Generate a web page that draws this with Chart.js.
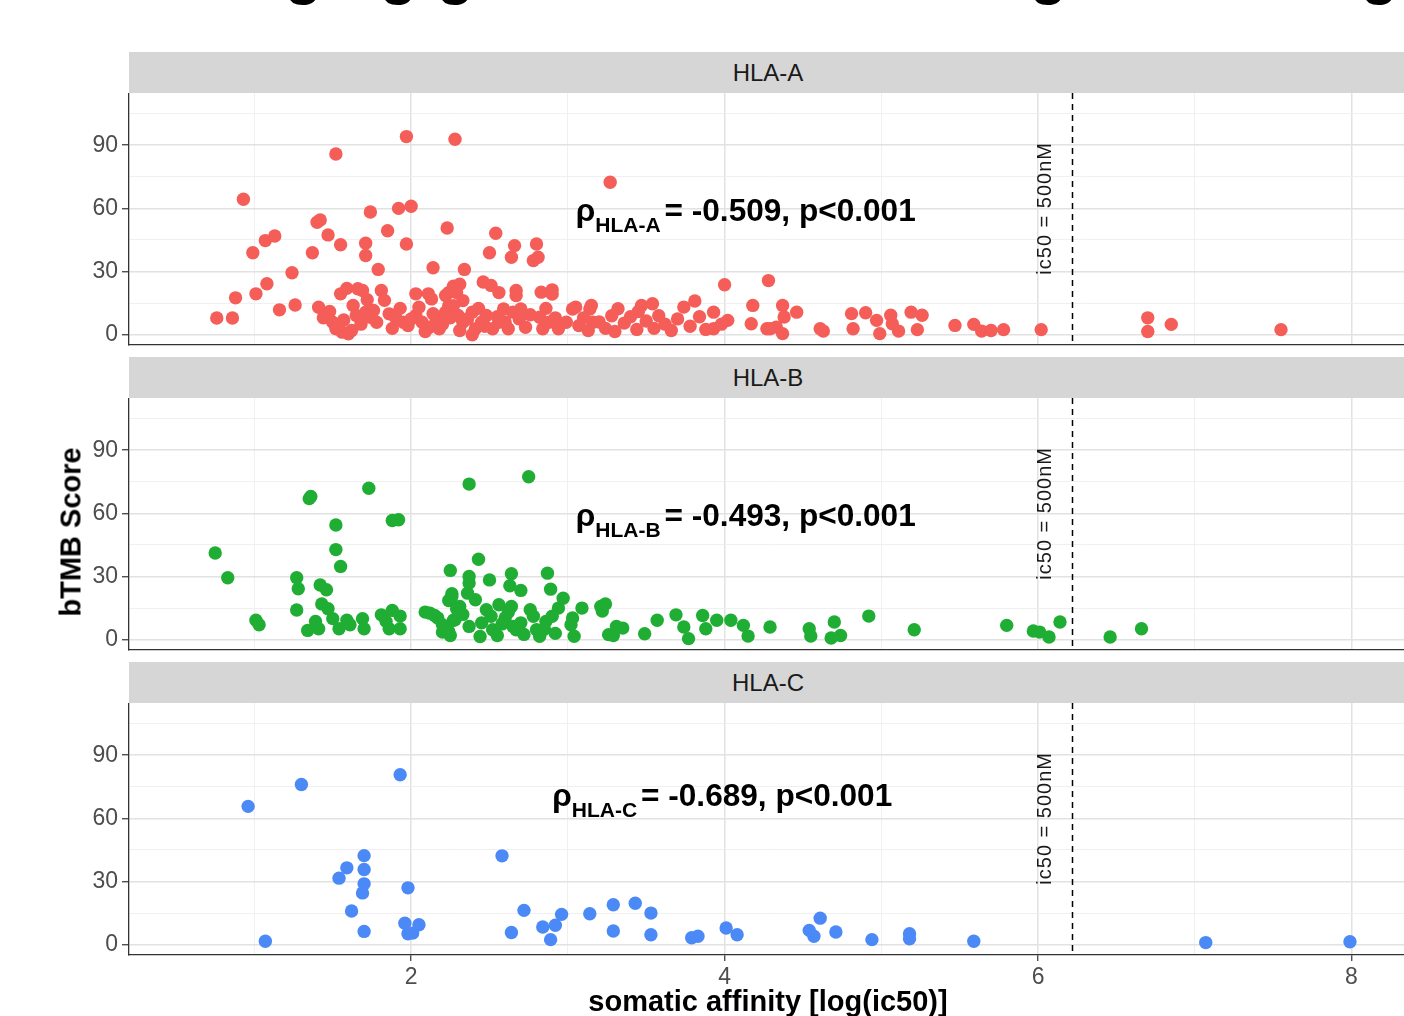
<!DOCTYPE html>
<html><head><meta charset="utf-8">
<script src="https://cdn.jsdelivr.net/npm/chart.js@4.4.0/dist/chart.umd.min.js"></script>
<style>
html,body{margin:0;padding:0;background:#fff;overflow:hidden;width:1404px;height:1016px;}
#wrap{position:relative;width:1404px;height:1016px;overflow:hidden;font-family:"Liberation Sans",Arial,sans-serif;}
.strip{position:absolute;left:129px;width:1278px;height:41px;background:#d6d6d6;color:#1a1a1a;font-size:24px;line-height:41px;text-align:center;}
canvas{position:absolute;left:0;}
#ylab{position:absolute;left:71px;top:532px;transform:translate(-50%,-50%) rotate(-90deg);font-weight:bold;font-size:29px;white-space:nowrap;color:#000;}
.cut{position:absolute;top:-57px;font-weight:bold;font-size:60px;line-height:60px;color:#000;}
</style></head>
<body><div id="wrap">
<span class="cut" style="left:285px">g</span>
<span class="cut" style="left:380px">g</span>
<span class="cut" style="left:437px">g</span>
<span class="cut" style="left:1030px">g</span>
<span class="cut" style="left:1361px">g</span>
<div class="strip" style="top:52px">HLA-A</div>
<div class="strip" style="top:357px">HLA-B</div>
<div class="strip" style="top:662px">HLA-C</div>
<canvas id="cA" width="1407" height="254" style="top:93px"></canvas>
<canvas id="cB" width="1407" height="254" style="top:398px"></canvas>
<canvas id="cC" width="1407" height="322" style="top:703px"></canvas>
<div id="ylab">bTMB Score</div>
</div>
<script>
// ---- data (somatic affinity = log(ic50), bTMB score) ----
const hlaA_affinity = [0.76,0.86,0.88,0.93,0.99,1.01,1.07,1.08,1.13,1.16,1.24,1.26,1.37,1.40,1.42,1.41,1.44,1.47,1.52,1.55,1.55,1.59,1.63,1.66,1.69,1.71,1.71,1.72,1.74,1.79,1.81,1.83,1.85,1.92,1.97,1.97,2.00,2.03,2.11,2.13,2.14,2.23,2.24,2.27,2.28,2.29,2.31,2.34,2.46,2.50,2.51,2.54,2.64,2.66,2.67,2.78,2.80,2.81,2.83,2.90,3.27,4.00,4.28,
2.22,2.24,2.33,2.56,2.67,2.90,
1.45,1.50,1.52,1.56,1.60,1.65,1.71,1.74,1.78,1.86,1.90,1.95,1.98,2.03,2.07,2.12,2.16,2.18,2.22,2.27,2.30,2.33,2.39,2.41,2.45,2.39,2.48,2.52,2.56,2.59,2.62,2.65,2.69,2.70,2.82,2.84,2.88,2.94,2.99,3.03,3.07,3.14,3.16,
1.48,1.53,1.57,1.62,1.68,1.76,1.88,1.93,2.00,2.05,2.09,2.14,2.20,2.25,2.31,2.36,2.43,2.47,2.55,2.60,2.73,2.76,2.86,2.92,
3.05,3.15,3.32,3.47,3.54,3.74,3.81,3.93,4.02,3.93,4.18,4.17,4.27,
3.10,3.13,3.20,3.24,3.28,3.30,3.36,3.40,3.44,3.50,3.55,3.58,3.62,3.66,3.70,3.78,3.84,3.88,3.98,3.45,
4.37,4.46,4.38,4.33,4.37,4.29,4.63,4.61,4.81,4.90,4.97,4.82,4.99,5.06,5.07,5.11,5.19,5.26,5.23,5.47,5.59,5.64,5.70,5.78,6.02,6.70,6.70,6.85,7.55];
const hlaA_btmb = [7.9,7.9,17.5,64.3,38.9,19.4,44.7,24.2,46.9,11.8,29.4,14.1,38.9,53.4,54.5,13.0,8.0,47.4,85.8,42.7,19.4,22.0,13.9,21.8,21.0,43.4,37.6,16.6,58.3,31.0,21.0,16.3,49.4,60.0,94.1,43.1,61.0,19.4,19.4,17.0,31.8,50.7,20.0,23.0,92.8,20.0,24.0,31.0,25.0,38.9,23.4,48.2,36.8,42.3,21.0,35.2,43.1,36.8,20.2,21.3,72.4,23.7,25.7,
18.6,13.8,16.2,20.0,18.6,19.3,
8.3,5.9,2.8,1.2,0.4,9.1,10.7,8.3,5.9,9.9,8.3,5.9,4.3,9.1,5.9,3.6,7.5,2.8,10.7,13.8,9.1,5.9,10.7,2.8,5.9,0.0,9.1,2.8,5.9,12.2,2.8,10.7,7.5,12.2,8.3,2.8,5.9,2.8,5.9,12.2,4.3,12.2,5.9,
11.0,4.5,7.0,2.0,5.0,11.5,3.0,12.5,7.5,13.0,1.5,10.0,5.0,8.0,2.0,7.5,12.5,4.0,8.5,6.0,3.5,9.5,12.5,8.0,
13.1,13.9,12.3,13.9,14.7,13.1,16.0,10.7,6.8,2.8,13.9,5.2,2.8,
8.0,2.0,6.0,3.0,9.0,1.5,5.5,8.5,2.5,6.5,3.0,9.0,5.0,2.0,7.5,4.0,8.5,2.5,5.0,11.0,
13.9,10.7,8.4,3.6,0.5,2.8,1.7,2.8,10.0,10.4,6.8,2.8,0.5,9.2,5.2,1.7,10.7,9.2,2.4,4.4,4.9,1.7,2.0,2.4,2.4,8.0,1.5,4.9,2.4];

const hlaB_affinity = [0.75,0.83,1.01,1.03,1.27,1.28,1.27,1.34,1.35,1.36,1.39,1.41,1.42,1.43,1.46,1.47,1.50,1.52,1.52,1.54,1.55,1.59,1.61,1.69,1.70,1.73,1.81,1.86,1.88,1.88,1.92,1.93,1.93,1.84,
2.09,2.15,2.20,2.24,2.25,2.26,2.27,2.25,2.29,
2.12,2.17,2.20,2.24,2.28,2.31,2.37,2.48,2.51,2.52,2.56,2.60,2.64,2.65,2.67,2.76,2.78,2.80,2.82,2.86,2.90,2.94,3.03,3.02,3.04,3.09,3.21,3.24,3.26,3.31,
2.37,2.75,2.43,2.37,2.37,2.50,2.64,2.63,2.70,2.87,2.89,2.97,2.26,2.36,2.41,
2.33,2.45,2.55,2.62,2.70,2.72,2.85,2.44,2.58,2.92,
3.22,3.35,3.29,3.49,3.57,3.69,3.74,3.77,3.86,3.88,3.95,4.04,4.12,4.15,4.29,
4.54,4.55,4.70,4.68,4.74,4.92,5.21,5.80,5.97,6.01,6.07,6.14,6.46,6.66];
const hlaB_btmb = [41.2,29.4,9.2,7.1,29.4,24.2,14.1,4.4,67.0,68.0,8.7,5.2,26.0,17.0,23.7,14.7,10.0,54.5,42.8,5.2,34.8,9.2,7.1,10.0,5.2,71.9,11.8,5.2,56.6,13.9,57.0,11.2,5.2,8.7,
13.1,11.5,3.6,18.6,32.9,21.8,9.2,2.0,14.7,
12.6,10.3,7.1,3.9,9.5,15.8,6.3,14.2,11.1,4.7,16.6,10.3,15.8,6.3,4.7,14.2,11.1,4.7,1.6,8.7,11.1,15.0,10.3,7.1,1.6,15.0,15.8,17.0,2.4,6.3,
73.9,77.4,38.2,30.0,26.9,28.4,31.3,25.6,23.4,31.6,24.0,19.7,20.5,22.1,19.0,
12.0,8.0,2.0,13.0,8.0,2.5,5.0,1.5,7.5,3.0,
13.6,5.5,2.0,2.8,9.2,11.8,6.0,0.5,11.5,5.2,9.2,9.2,6.8,1.7,6.0,
5.2,1.7,8.4,0.8,2.0,11.2,4.7,6.8,4.1,3.6,1.3,8.4,1.3,5.2];

const hlaC_affinity = [0.96,1.07,1.30,1.54,1.59,1.62,1.69,1.70,1.70,1.70,1.70,1.93,1.98,1.96,2.05,1.98,2.01,2.58,2.64,2.72,2.84,2.92,2.89,2.96,3.14,3.29,3.29,3.43,3.53,3.53,3.79,3.83,4.01,4.08,4.54,4.57,4.61,4.71,4.94,5.18,5.18,5.59,7.07,7.99];
const hlaC_btmb = [65.7,1.6,76.1,31.6,36.5,16.0,24.6,28.9,35.7,42.3,6.3,80.7,27.0,10.2,9.5,5.2,5.5,42.2,5.8,16.3,8.4,9.2,2.4,14.4,14.7,19.0,6.5,19.7,15.0,4.7,3.3,4.0,7.9,4.7,6.8,4.0,12.6,6.0,2.4,5.2,2.8,1.6,1.0,1.4];

const panelLabels = ['HLA-A','HLA-B','HLA-C'];
const rhoValues = ['-0.509','-0.493','-0.689'];
const pText = 'p<0.001';
const xTickLabels = [2,4,6,8];
const yTickLabels = [0,30,60,90];
const ic50Cutoff = Math.log(500);   // 500 nM
const cutoffLabel = 'ic50 = 500nM';

// ---- layout / style ----
const FAM = '"Liberation Sans", Arial, sans-serif';
const X_MIN = 0.2, X_MAX = 8.354, Y_MIN = -4.9, Y_MAX = 114.8;
const COLORS = ['#f45d58','#1fae33','#4b8af6'];
const annotPos = [{x:3.05,y:53.8},{x:3.05,y:53.8},{x:2.9,y:66}];

function makeOverlay(idx){
  return {
    id:'overlay'+idx,
    afterDatasetsDraw(chart){
      const ctx = chart.ctx, xs = chart.scales.x, ys = chart.scales.y, ca = chart.chartArea;
      ctx.save();
      const vx = Math.round(xs.getPixelForValue(ic50Cutoff))+0.5;
      ctx.strokeStyle = '#000'; ctx.lineWidth = 1.5; ctx.setLineDash([6,5]);
      ctx.beginPath(); ctx.moveTo(vx, ca.top); ctx.lineTo(vx, ca.bottom); ctx.stroke();
      ctx.setLineDash([]);
      ctx.save();
      ctx.translate(xs.getPixelForValue(6.05), ys.getPixelForValue(60));
      ctx.rotate(-Math.PI/2);
      ctx.font = '20px ' + FAM; ctx.fillStyle = '#1a1a1a';
      ctx.textAlign = 'center'; ctx.textBaseline = 'middle';
      try { ctx.letterSpacing = '1px'; } catch(e){}
      ctx.fillText(cutoffLabel, 0, 0);
      ctx.restore();
      const a = annotPos[idx];
      let x0 = xs.getPixelForValue(a.x), yb = ys.getPixelForValue(a.y);
      ctx.fillStyle = '#000'; ctx.textAlign = 'left'; ctx.textBaseline = 'alphabetic';
      ctx.font = 'bold 31.6px ' + FAM;
      ctx.fillText('\u03C1', x0, yb);
      x0 += ctx.measureText('\u03C1').width;
      ctx.font = 'bold 21px ' + FAM;
      ctx.fillText(panelLabels[idx], x0, yb + 11);
      x0 += ctx.measureText(panelLabels[idx]).width + 4;
      ctx.font = 'bold 31.6px ' + FAM;
      ctx.fillText('= ' + rhoValues[idx] + ', ' + pText, x0, yb);
      ctx.restore();
    }
  };
}

function makePanel(id, xsArr, ysArr, idx, showX){
  const pts = xsArr.map((x,i)=>({x:x, y:ysArr[i]}));
  const majorX = v => xTickLabels.includes(v);
  const majorY = v => yTickLabels.includes(v);
  new Chart(document.getElementById(id), {
    type:'scatter',
    data:{datasets:[{data:pts, backgroundColor:COLORS[idx], borderColor:COLORS[idx], borderWidth:0, pointRadius:6.7, pointHoverRadius:6.7}]},
    options:{
      responsive:false, animation:false, devicePixelRatio:1, events:[],
      layout:{padding:0, autoPadding:false},
      plugins:{legend:{display:false}, tooltip:{enabled:false}},
      scales:{
        x:{type:'linear', min:X_MIN, max:X_MAX,
          afterFit(s){ s.height = showX ? 70 : 2; s.paddingLeft = 0; s.paddingRight = 0; s.paddingTop = 0; s.paddingBottom = 0; },
          ticks:{stepSize:1, includeBounds:false, autoSkip:false, maxRotation:0, display:showX,
            callback:v=> majorX(v) ? String(v) : '', font:{size:23, family:FAM}, color:'#4d4d4d', padding:3},
          grid:{color:c=> (c.tick && majorX(c.tick.value)) ? '#e2e2e2' : '#eeeeee',
            lineWidth:c=> (c.tick && majorX(c.tick.value)) ? 1.5 : 0.9,
            drawTicks:showX, tickLength:6, tickWidth:1.2,
            tickColor:c=> (c.tick && majorX(c.tick.value)) ? '#333' : 'rgba(0,0,0,0)'},
          border:{display:true, color:'#333', width:1.3},
          title:{display:showX, text:'somatic affinity [log(ic50)]', color:'#000',
            font:{size:29, weight:'bold', family:FAM}, padding:{top:0, bottom:4.6}}
        },
        y:{type:'linear', min:Y_MIN, max:Y_MAX,
          afterFit(s){ s.width = 129; s.paddingTop = 0; s.paddingBottom = 0; s.paddingLeft = 0; s.paddingRight = 0; },
          ticks:{stepSize:15, includeBounds:false, autoSkip:false,
            callback:v=> majorY(v) ? String(v) : '', font:{size:23, family:FAM}, color:'#4d4d4d', padding:4},
          grid:{color:c=> (c.tick && majorY(c.tick.value)) ? '#e2e2e2' : '#eeeeee',
            lineWidth:c=> (c.tick && majorY(c.tick.value)) ? 1.5 : 0.9,
            tickLength:7, tickWidth:1.2,
            tickColor:c=> (c.tick && majorY(c.tick.value)) ? '#333' : 'rgba(0,0,0,0)'},
          border:{display:true, color:'#333', width:1.3}
        }
      }
    },
    plugins:[makeOverlay(idx)]
  });
}

makePanel('cA', hlaA_affinity, hlaA_btmb, 0, false);
makePanel('cB', hlaB_affinity, hlaB_btmb, 1, false);
makePanel('cC', hlaC_affinity, hlaC_btmb, 2, true);
</script>
</body></html>
